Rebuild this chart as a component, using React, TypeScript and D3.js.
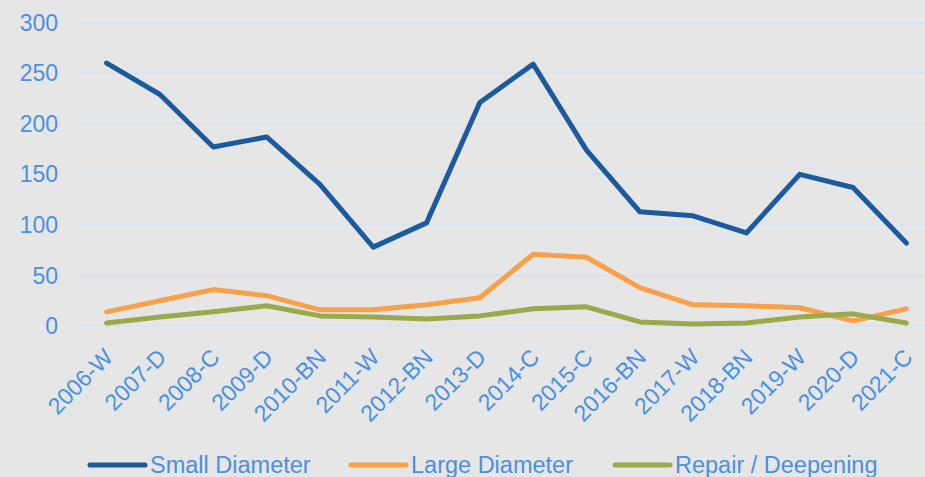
import { useMemo } from 'react';
import * as d3 from 'd3';

const WIDTH = 925;
const HEIGHT = 477;
const PLOT = { left: 80, right: 933, top: 22.7, bottom: 326 };
const FONT = '"Liberation Sans", Arial, sans-serif';
const TEXT_COLOR = '#4a90e2';
const GRID_COLOR = '#d3e3f4';
const BG = '#e6e6e6';

const categories = [
  '2006-W', '2007-D', '2008-C', '2009-D', '2010-BN', '2011-W', '2012-BN', '2013-D',
  '2014-C', '2015-C', '2016-BN', '2017-W', '2018-BN', '2019-W', '2020-D', '2021-C',
];
const smallDiameter = [260, 229, 177, 187, 140, 78, 102, 221, 259, 174, 113, 109, 92, 150, 137, 82];
const largeDiameter = [14, 25, 36, 30, 16, 16, 21, 28, 71, 68, 38, 21, 20, 18, 5, 17];
const repairDeepening = [3, 9, 14, 20, 10, 9, 7, 10, 17, 19, 4, 2, 3, 9, 12, 3];
const yTicks = [0, 50, 100, 150, 200, 250, 300];

const series = [
  { name: 'Small Diameter', values: smallDiameter, color: '#1b5a9c', legendX: 90 },
  { name: 'Large Diameter', values: largeDiameter, color: '#f9a04a', legendX: 351 },
  { name: 'Repair / Deepening', values: repairDeepening, color: '#9aaa4a', legendX: 615 },
];

export default function App() {
  const x = useMemo(
    () => d3.scalePoint<string>().domain(categories).range([PLOT.left, PLOT.right]).padding(0.5),
    []
  );
  const y = useMemo(() => d3.scaleLinear().domain([0, 300]).range([PLOT.bottom, PLOT.top]), []);

  const line = d3
    .line<number>()
    .x((_, i) => x(categories[i]) as number)
    .y((d) => y(d));

  return (
    <svg
      width={WIDTH}
      height={HEIGHT}
      style={{ position: 'fixed', left: 0, top: 0, background: BG }}
      fontFamily={FONT}
    >
      <rect width={WIDTH} height={HEIGHT} fill={BG} />
      {yTicks.map((t) => (
        <g key={t}>
          <line x1={PLOT.left} x2={WIDTH} y1={y(t)} y2={y(t)} stroke={GRID_COLOR} strokeWidth={1.4} />
          <text x={58} y={y(t)} dy="0.35em" textAnchor="end" fontSize={23} fill={TEXT_COLOR}>
            {t}
          </text>
        </g>
      ))}
      {categories.map((c) => (
        <text
          key={c}
          transform={`translate(${(x(c) as number) + 2},353) rotate(-45)`}
          dy="0.35em"
          textAnchor="end"
          fontSize={23}
          fill={TEXT_COLOR}
        >
          {c}
        </text>
      ))}
      {series.map((s) => (
        <path
          key={s.name}
          d={line(s.values) ?? ''}
          fill="none"
          stroke={s.color}
          strokeWidth={5}
          strokeLinejoin="round"
          strokeLinecap="round"
        />
      ))}
      {series.map((s) => (
        <g key={`${s.name}-legend`}>
          <line
            x1={s.legendX}
            x2={s.legendX + 55}
            y1={465}
            y2={465}
            stroke={s.color}
            strokeWidth={5}
            strokeLinecap="round"
          />
          <text x={s.legendX + 60} y={465} dy="0.35em" fontSize={23.5} fill={TEXT_COLOR}>
            {s.name}
          </text>
        </g>
      ))}
    </svg>
  );
}
